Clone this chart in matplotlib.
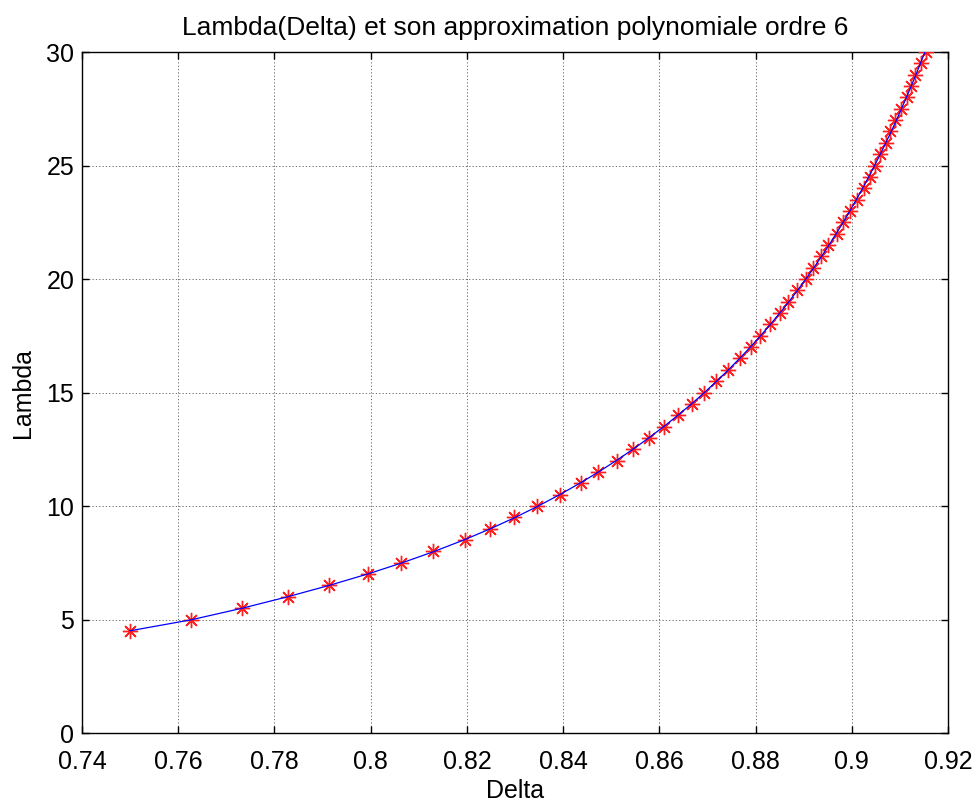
import numpy as np
import matplotlib.pyplot as plt

# mesures : Lambda en fonction de Delta
lambda_vals = [4.5, 5.0, 5.5, 6.0, 6.5, 7.0, 7.5, 8.0, 8.5, 9.0,
               9.5, 10.0, 10.5, 11.0, 11.5, 12.0, 12.5, 13.0, 13.5, 14.0,
               14.5, 15.0, 15.5, 16.0, 16.5, 17.0, 17.5, 18.0, 18.5, 19.0,
               19.5, 20.0, 20.5, 21.0, 21.5, 22.0, 22.5, 23.0, 23.5, 24.0,
               24.5, 25.0, 25.5, 26.0, 26.5, 27.0, 27.5, 28.0, 28.5, 29.0,
               29.5, 30.0]
delta_vals = [0.7500, 0.7627, 0.7733, 0.7829, 0.7914, 0.7995, 0.8064, 0.8130, 0.8196, 0.8248,
              0.8298, 0.8346, 0.8394, 0.8437, 0.8473, 0.8511, 0.8546, 0.8579, 0.8610, 0.8638,
              0.8668, 0.8693, 0.8718, 0.8743, 0.8768, 0.8790, 0.8809, 0.8831, 0.8851, 0.8868,
              0.8886, 0.8905, 0.8920, 0.8937, 0.8951, 0.8969, 0.8982, 0.8996, 0.9011, 0.9026,
              0.9038, 0.9048, 0.9059, 0.9071, 0.9080, 0.9090, 0.9103, 0.9114, 0.9124, 0.9131,
              0.9143, 0.9154]
poly_order = 6

x_ticks = [0.74, 0.76, 0.78, 0.8, 0.82, 0.84, 0.86, 0.88, 0.9, 0.92]
x_ticklabels = ['0.74', '0.76', '0.78', '0.8', '0.82', '0.84', '0.86', '0.88', '0.9', '0.92']
y_ticks = [0, 5, 10, 15, 20, 25, 30]


def main():
	plt.rcParams['font.family'] = ['Liberation Sans', 'DejaVu Sans']

	delta = np.array(delta_vals)
	lam = np.array(lambda_vals)

	# ajustement polynomial d'ordre 6, evalue aux memes abscisses
	coefs = np.polyfit(delta, lam, poly_order)
	lam_fit = np.polyval(coefs, delta)

	fig = plt.figure(figsize=(9.76, 8.05), dpi=100)
	ax = fig.add_axes([0.084, 0.0894, 0.8873, 0.8460])

	ax.plot(delta, lam, linestyle='none', marker=(8, 2, 0), markersize=11,
		markeredgecolor='#ff2020', markeredgewidth=1.0, zorder=3)
	ax.plot(delta, lam_fit, color='blue', linewidth=0.9, zorder=4)

	ax.set_xlim(0.74, 0.92)
	ax.set_ylim(0, 30)
	ax.set_xticks(x_ticks)
	ax.set_xticklabels(x_ticklabels)
	ax.set_yticks(y_ticks)

	ax.grid(True, color='#555555', linestyle=(0, (1.5, 2.5)), linewidth=0.6)
	ax.tick_params(direction='in', top=True, right=True, length=5, width=1,
		labelsize=18)
	ax.tick_params(axis='y', pad=5.5)
	ax.tick_params(axis='x', pad=12)
	for sp in ax.spines.values():
		sp.set_linewidth(1.0)

	ax.set_title('Lambda(Delta) et son approximation polynomiale ordre 6', fontsize=19, pad=12)
	ax.set_xlabel('Delta', fontsize=18, labelpad=4)
	ax.set_ylabel('Lambda', fontsize=18, labelpad=8)

	fig.savefig('out.png', dpi=100)


if __name__ == '__main__':
	main()
